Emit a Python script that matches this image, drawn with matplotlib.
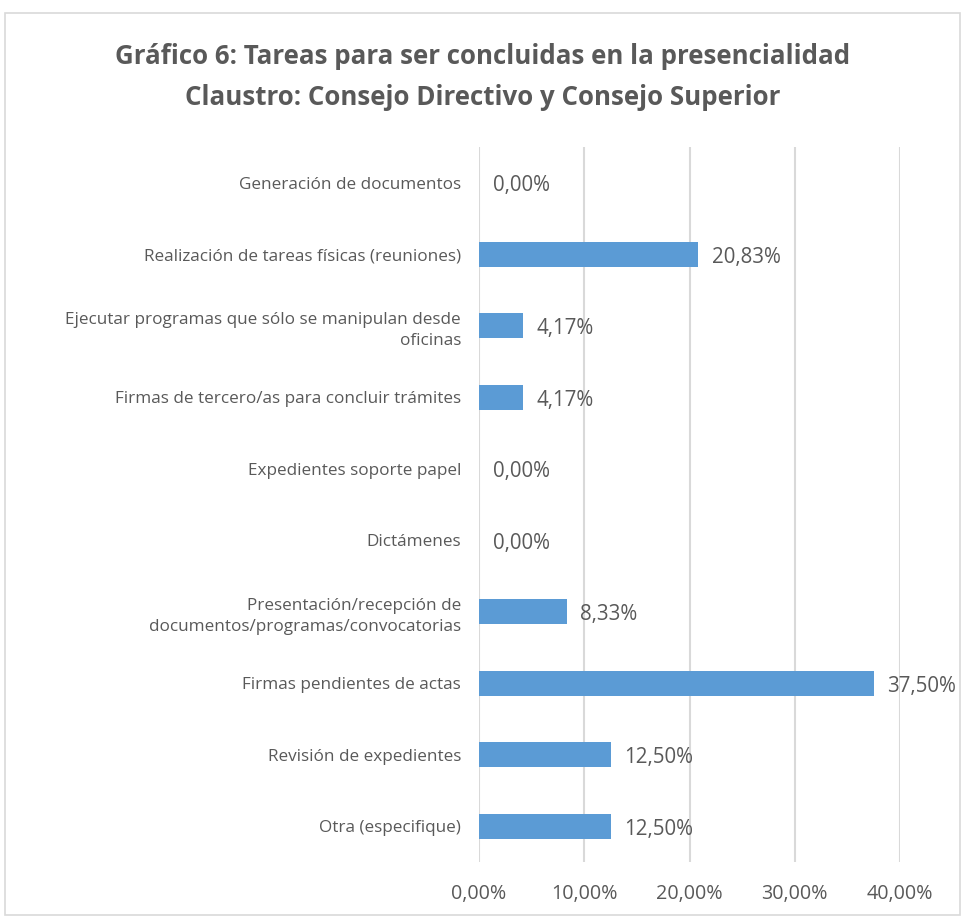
import matplotlib.pyplot as plt
from matplotlib.patches import Rectangle

categories = ['Generación de documentos',
              'Realización de tareas físicas (reuniones)',
              'Ejecutar programas que sólo se manipulan desde\noficinas',
              'Firmas de tercero/as para concluir trámites',
              'Expedientes soporte papel',
              'Dictámenes',
              'Presentación/recepción de\ndocumentos/programas/convocatorias',
              'Firmas pendientes de actas',
              'Revisión de expedientes',
              'Otra (especifique)']
values = [0.00, 20.83, 4.17, 4.17, 0.00, 0.00, 8.33, 37.50, 12.50, 12.50]
ticks = [0, 10, 20, 30, 40]

plt.rcParams['font.family'] = ['Open Sans', 'DejaVu Sans']
txt = '#595959'

fig = plt.figure(figsize=(9.66, 9.21), dpi=100)
fig.patches.append(Rectangle((5/966, 6/921), 955/966, 902/921, transform=fig.transFigure,
                             fill=False, edgecolor='#d9d9d9', lw=1.2))
ax = fig.add_axes([479/966, 59/921, 421/966, 715/921])

pos = list(range(len(categories)))
ax.barh(pos, values, height=0.35, color='#5b9bd5', zorder=3)
for p, v in zip(pos, values):
    ax.text(v + 1.3, p + 0.04, f'{v:.2f}%'.replace('.', ','), va='center', ha='left',
            fontsize=14.8, color=txt)

ax.set_xlim(0, 40)
ax.set_ylim(9.5, -0.5)
ax.set_xticks(ticks)
ax.set_xticklabels([f'{t:.2f}%'.replace('.', ',') for t in ticks], fontsize=14.2, color=txt)
ax.set_yticks(pos)
ax.set_yticklabels(categories, fontsize=12.3, color=txt, linespacing=1.45)
ax.tick_params(length=0, pad=13)
ax.tick_params(axis='x', pad=16)
ax.grid(axis='x', color='#d9d9d9', lw=1.5, zorder=0)
for s in ax.spines.values():
    s.set_visible(False)

fig.text(0.5, 1 - 77/921, 'Gráfico 6: Tareas para ser concluidas en la presencialidad\nClaustro: Consejo Directivo y Consejo Superior',
         ha='center', va='center', fontsize=18.6, fontweight='bold', color=txt, linespacing=1.68)

fig.savefig('out.png', dpi=100)
